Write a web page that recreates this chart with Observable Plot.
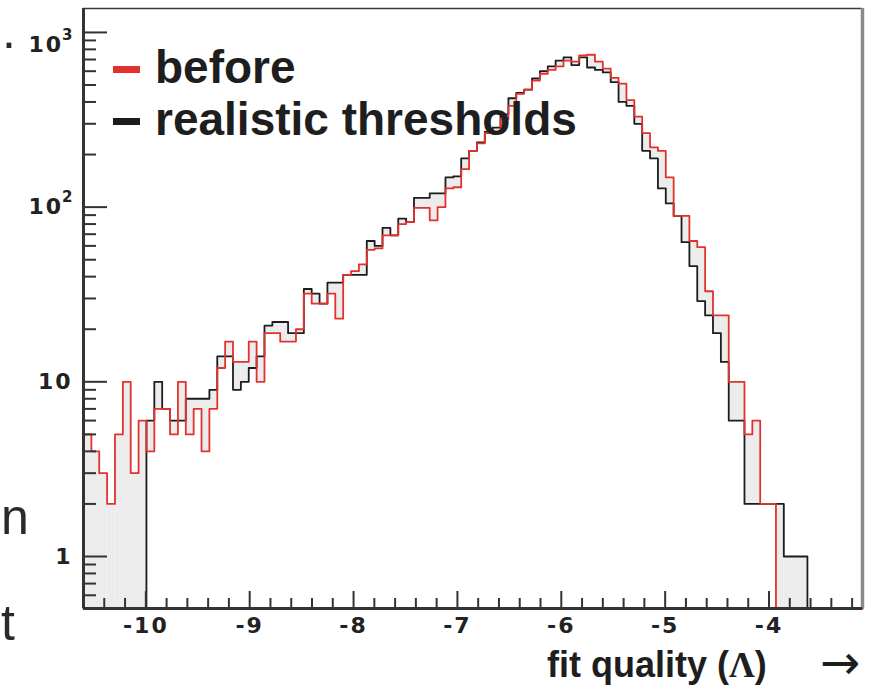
<!DOCTYPE html>
<html>
<head>
<meta charset="utf-8">
<script src="https://cdn.jsdelivr.net/npm/d3@7"></script>
<script src="https://cdn.jsdelivr.net/npm/@observablehq/plot@0.6"></script>
<style>
  html, body { margin: 0; padding: 0; background: #fff; }
  #wrap { position: relative; width: 872px; height: 693px; overflow: hidden; background: #fff; }
  #chart svg { display: block; }
  .ov { position: absolute; white-space: nowrap; line-height: 1; }
  .legtxt { font-family: "Liberation Sans", Arial, sans-serif; font-weight: bold; font-size: 46px; color: #1e1e1e; }
  .dash { position: absolute; width: 27px; height: 7px; }
  .xtitle { font-family: "Liberation Sans", Arial, sans-serif; font-weight: bold; font-size: 36px; color: #1e1e1e; }
  .xtitle .lam { font-family: "Liberation Serif", "DejaVu Serif", serif; font-weight: bold; }
  .xarrow { font-family: "DejaVu Sans", sans-serif; font-weight: normal; font-size: 48px; color: #1e1e1e; }
  .stray { font-family: "Liberation Sans", Arial, sans-serif; font-size: 50px; color: #2a2a2a; }
</style>
</head>
<body>
<div id="wrap"><div id="chart"></div></div>
<script>
// ---- data ----
const xMin = -10.6, xMax = -3.1;          // histogram range (fit quality Λ)
const seriesNames = ["before", "realistic thresholds"];
const seriesColors = ["#e3312d", "#1c1c1c"];

// counts per bin, "before" (red)
const before = [
  5, 4, 3, 2, 5, 10, 3, 6, 4, 7,
  7, 5, 10, 5, 7, 4, 7, 12, 17, 13,
  13, 17, 10, 19, 19, 17, 17, 20, 32, 28,
  28, 32, 23, 41, 43, 47, 57, 58, 69, 69,
  80, 82, 99, 99, 84, 100, 128, 130, 165, 210,
  232, 265, 265, 320, 380, 445, 470, 530, 580, 610,
  640, 690, 680, 740, 745, 680, 620, 550, 510, 410,
  330, 265, 220, 210, 148, 89, 89, 64, 59, 33,
  24, 24, 10, 10, 5, 6, 2, 2, 0, 0,
  0, 0, 0, 0, 0, 0, 0, 0, 0
];
// counts per bin, "realistic thresholds" (black)
const realistic = [
  0, 0, 0, 0, 0, 0, 0, 0, 6, 10,
  7, 6, 6, 8, 8, 8, 9, 14, 14, 9,
  10, 12, 14, 21, 22, 22, 19, 19, 34, 32,
  28, 37, 37, 41, 41, 41, 64, 60, 76, 69,
  86, 82, 113, 113, 120, 120, 148, 150, 190, 210,
  235, 270, 285, 340, 420, 450, 470, 545, 600, 640,
  690, 720, 650, 720, 630, 610, 590, 520, 400, 380,
  300, 210, 190, 128, 105, 89, 63, 46, 29, 24,
  19, 13, 6, 6, 2, 2, 2, 2, 2, 1,
  1, 1, 0, 0, 0, 0, 0, 0, 0
];

// axes
const yLo = 0.504, yHi = 1371;
const xMajorTicks = [-10, -9, -8, -7, -6, -5, -4];
const xTickLabels = ["-10", "-9", "-8", "-7", "-6", "-5", "-4"];
const xMinorTicks = [-10.4, -10.2, -9.8, -9.6, -9.4, -9.2, -8.8, -8.6, -8.4, -8.2,
  -7.8, -7.6, -7.4, -7.2, -6.8, -6.6, -6.4, -6.2, -5.8, -5.6, -5.4, -5.2,
  -4.8, -4.6, -4.4, -4.2, -3.8, -3.6, -3.4, -3.2];
const yMajorTicks = [1, 10, 100, 1000];
const yTickLabels = ["1", "10", "10\u00B2", "10\u00B3"];
const yMinorTicks = [0.6, 0.7, 0.8, 0.9, 2, 3, 4, 5, 6, 7, 8, 9,
  20, 30, 40, 50, 60, 70, 80, 90, 200, 300, 400, 500, 600, 700, 800, 900];
const xTitleParts = ["fit quality (", "\u039B", ")", "\u2192"];
const strayTexts = [".", "n", "t"];

// ---- derived tables ----
const nBins = before.length;
const binW = (xMax - xMin) / nBins;
const clampLo = v => (v > 0 ? v : yLo);
const bins = before.map((r, i) => ({
  x1: xMin + i * binW, x2: xMin + (i + 1) * binW, r, b: realistic[i]
}));
const stepPts = arr => [
  ...arr.map((v, i) => ({x: xMin + i * binW, y: clampLo(v)})),
  {x: xMax, y: clampLo(arr[arr.length - 1])}
];

const tickFont = {fontFamily: "DejaVu Sans, sans-serif", fontWeight: "bold", fontSize: 22};

const chart = Plot.plot({
  width: 872, height: 693,
  marginLeft: 83, marginRight: 10, marginTop: 8, marginBottom: 85,
  style: {background: "white", color: "#222", fontFamily: "DejaVu Sans, sans-serif"},
  x: {domain: [xMin, xMax], label: null},
  y: {type: "log", domain: [yLo, yHi], label: null},
  marks: [
    // shaded difference between the two histograms
    Plot.rectY(bins, {
      x1: "x1", x2: "x2",
      y1: d => clampLo(Math.min(d.r, d.b)),
      y2: d => clampLo(Math.max(d.r, d.b)),
      fill: "#ececec"
    }),
    Plot.line(stepPts(realistic), {x: "x", y: "y", curve: "step-after", stroke: seriesColors[1], strokeWidth: 1.8}),
    Plot.line(stepPts(before), {x: "x", y: "y", curve: "step-after", stroke: seriesColors[0], strokeWidth: 1.8}),
    // frame
    Plot.ruleY([yHi], {stroke: "#3a3a3a", strokeWidth: 1.5}),
    Plot.ruleX([xMax], {stroke: "#8a8a8a", strokeWidth: 3.5}),
    Plot.ruleX([xMin], {stroke: "#333", strokeWidth: 3}),
    Plot.ruleY([yLo], {stroke: "#333", strokeWidth: 3}),
    // inward ticks
    Plot.axisX(xMajorTicks, {tickSize: -17, tickFormat: () => "", stroke: "#333", strokeWidth: 2}),
    Plot.axisX(xMinorTicks, {tickSize: -10, tickFormat: () => "", stroke: "#333", strokeWidth: 2}),
    Plot.axisY(yMajorTicks, {tickSize: -24, tickFormat: () => "", stroke: "#333", strokeWidth: 2}),
    Plot.axisY(yMinorTicks, {tickSize: -13, tickFormat: () => "", stroke: "#333", strokeWidth: 2}),
    // tick labels
    Plot.axisX(xMajorTicks, {tickSize: 0, tickPadding: 9,
      tickFormat: d => xTickLabels[xMajorTicks.indexOf(d)], fill: "#222", ...tickFont}),
    Plot.axisY(yMajorTicks, {anchor: "left", tickSize: 0, tickPadding: 11,
      tickFormat: d => yTickLabels[yMajorTicks.indexOf(d)], fill: "#222", ...tickFont})
  ]
});
document.getElementById("chart").appendChild(chart);

// tick labels: wider letter spacing, real superscript exponents
const SVGNS = "http://www.w3.org/2000/svg";
const supDigits = {"\u00B2": "2", "\u00B3": "3"};
chart.querySelectorAll('g[aria-label$="tick label"] text').forEach(t => {
  t.setAttribute("letter-spacing", "2");
  const s = t.textContent;
  const last = s.slice(-1);
  if (supDigits[last]) {
    t.textContent = s.slice(0, -1);
    const ts = document.createElementNS(SVGNS, "tspan");
    ts.textContent = supDigits[last];
    ts.setAttribute("font-size", "15");
    ts.setAttribute("dy", "-12");
    ts.setAttribute("dx", "-1");
    ts.setAttribute("letter-spacing", "0");
    t.appendChild(ts);
    if (last === "\u00B3") t.setAttribute("dy", "0.55em");
  }
});

// ---- overlays: legend, axis title, stray slide text ----
const wrap = document.getElementById("wrap");
function add(html, cls, css) {
  const d = document.createElement("div");
  d.className = cls;
  d.innerHTML = html;
  Object.assign(d.style, css);
  wrap.appendChild(d);
  return d;
}
const legendRows = [{top: 44, dashTop: 66}, {top: 96, dashTop: 118}];
seriesNames.forEach((name, i) => {
  add("", "dash", {left: "113px", top: legendRows[i].dashTop + "px", background: seriesColors[i]});
  add(name, "ov legtxt", {left: "155px", top: legendRows[i].top + "px"});
});
add(`${xTitleParts[0]}<span class="lam">${xTitleParts[1]}</span>${xTitleParts[2]}`,
  "ov xtitle", {left: "547px", top: "647px"});
add(xTitleParts[3], "ov xarrow", {left: "820px", top: "638px"});
add(strayTexts[0], "ov stray", {left: "2px", top: "6px"});
add(strayTexts[1], "ov stray", {left: "1px", top: "492px"});
add(strayTexts[2], "ov stray", {left: "1px", top: "598px"});
</script>
</body>
</html>
